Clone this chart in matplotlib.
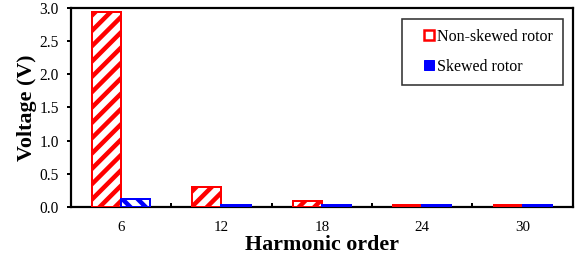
import numpy as np
import matplotlib
matplotlib.use("Agg")
import matplotlib.pyplot as plt
from matplotlib.patches import Patch, Rectangle
from matplotlib.legend_handler import HandlerPatch

orders = ["6", "12", "18", "24", "30"]
non_skewed = [2.94, 0.30, 0.09, 0.025, 0.025]
skewed = [0.12, 0.025, 0.025, 0.025, 0.025]

DPI = 92
PT = 72 / DPI  # points per pixel
plt.rcParams["font.family"] = ["Liberation Serif", "DejaVu Serif"]
plt.rcParams["hatch.linewidth"] = 4.5 * PT

fig = plt.figure(figsize=(581 / DPI, 257 / DPI), dpi=DPI)
ax = fig.add_axes([0.122, 0.195, 0.864, 0.774])

x = np.arange(len(orders))
w = 0.29
ax.bar(x - w / 2, non_skewed, w, facecolor="white", edgecolor="#ff0000", hatch="//",
       linewidth=2 * PT, zorder=3)
ax.bar(x + w / 2, skewed, w, facecolor="white", edgecolor="#0000ff", hatch="\\\\",
       linewidth=2 * PT, zorder=3)

ax.set_xlim(-0.5, 4.5)
ax.set_ylim(0, 3.0)
ax.set_yticks(np.arange(0, 3.01, 0.5))
ax.set_yticklabels([f"{v:.1f}" for v in np.arange(0, 3.01, 0.5)])
ax.set_xticks(x)
ax.set_xticklabels(orders)
ax.set_xticks(x[:-1] + 0.5, minor=True)
ax.tick_params(axis="x", which="major", length=0, labelsize=15 * PT, pad=14 * PT)
ax.tick_params(axis="x", which="minor", direction="in", length=4 * PT, width=2 * PT)
ax.tick_params(axis="y", direction="out", length=4 * PT, width=2 * PT,
               labelsize=15.5 * PT, pad=8 * PT)
for s in ax.spines.values():
    s.set_linewidth(2.2 * PT)

ax.set_ylabel("Voltage (V)", fontsize=22 * PT, fontweight="bold", labelpad=2 * PT)
ax.set_xlabel("Harmonic order", fontsize=22 * PT, fontweight="bold", labelpad=1 * PT)


def small_square(legend, orig_handle, xdescent, ydescent, width, height, fontsize):
    s = 8
    return Rectangle((-xdescent + width - s, -ydescent + (height - s) / 2), s, s)


handles = [Patch(facecolor="white", edgecolor="#ff0000", linewidth=2.5 * PT),
           Patch(facecolor="#0000ff", edgecolor="#0000ff", linewidth=1 * PT)]
leg = ax.legend(handles, ["Non-skewed rotor", "Skewed rotor"],
                handler_map={Patch: HandlerPatch(patch_func=small_square)},
                loc="upper right", bbox_to_anchor=(0.98, 0.945), fontsize=16 * PT,
                frameon=True, fancybox=False, edgecolor="black", handlelength=1.4,
                handleheight=0.7, handletextpad=0.2, borderpad=0.6, labelspacing=0.9,
                borderaxespad=0)
leg.get_frame().set_linewidth(1.6 * PT)

fig.savefig("out.png", dpi=DPI)
